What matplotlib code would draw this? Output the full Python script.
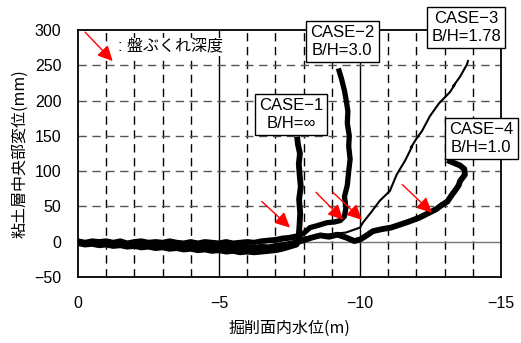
import matplotlib
matplotlib.use("Agg")
import matplotlib.pyplot as plt

plt.rcParams['font.family'] = ['Liberation Sans', 'Noto Sans CJK JP', 'DejaVu Sans']

# ---- データ ----
base_x = [0, -0.25, -0.5, -0.75, -1.0, -1.25, -1.5, -1.75, -2.0, -2.25, -2.5, -2.75,
          -3.0, -3.25, -3.5, -3.75, -4.0, -4.25, -4.5, -4.75, -5.0, -5.25, -5.5, -5.75,
          -6.0, -6.25, -6.5, -6.75, -7.0, -7.25, -7.5, -7.75]

case1_x = base_x + [-7.82, -7.85, -7.88, -7.84, -7.9, -7.86, -7.83, -7.87, -7.8, -7.78]
case1_y = [-2, -4, -3, -5, -4, -6, -5, -7, -6, -8, -7, -9,
           -8, -10, -9, -11, -10, -12, -11, -13, -12, -14, -13, -15,
           -14, -15, -14, -13, -12, -10, -7, -4,
           5, 20, 40, 60, 78, 95, 110, 125, 138, 145]

case2_x = base_x + [-8.0, -8.23, -8.5, -8.83, -9.1, -9.3, -9.45, -9.5, -9.45,
                    -9.55, -9.6, -9.65, -9.6, -9.62, -9.55, -9.57, -9.52, -9.45, -9.35, -9.26]
case2_y = [1, -1, 1, 0, 1, -1, 1, -2, 0, 1, -1, 0,
           -1, 1, -1, -2, 0, -2, 0, -1, -2, 0, -2, -1,
           0, -1, 1, 2, 3, 5, 6, 8,
           12, 20, 23, 27, 28, 30, 36, 48, 64,
           80, 100, 117, 135, 150, 168, 185, 198, 214, 230, 242]

case3_x = [0, -1.0, -2.0, -3.0, -4.0, -5.0, -6.0, -7.0, -8.0, -8.8, -9.5, -10.0,
           -10.1, -10.4, -10.7, -11.06, -11.3, -11.6, -11.85, -11.8, -12.0, -12.2,
           -12.48, -12.8, -13.19, -13.35, -13.3, -13.55, -13.79, -13.83]
case3_y = [0, -2, -3, -4, -5, -5, -3, 0, 6, 10, 13, 20,
           27, 42, 58, 72, 95, 115, 135, 133, 146, 157,
           178, 196, 212, 222, 220, 234, 251, 256]

case4_x = base_x + [-8.0, -8.3, -8.6, -8.9, -9.2, -9.5, -9.8, -10.0, -10.2, -10.46,
                    -10.8, -11.1, -11.4, -11.7, -12.1, -12.4, -12.7, -12.9, -13.1, -13.25,
                    -13.4, -13.5, -13.55, -13.72, -13.7, -13.55, -13.37, -13.19]
case4_y = [-1, -2, -1, -3, -2, -3, -3, -4, -3, -5, -4, -5,
           -5, -6, -5, -7, -6, -7, -7, -8, -7, -9, -8, -9,
           -8, -9, -7, -8, -6, -5, -3, -1,
           2, 6, 9, 7, 10, 6, 1, 3, 8, 15,
           18, 20, 24, 28, 34, 40, 46, 52, 57, 66,
           74, 80, 86, 95, 103, 108, 111, 114]

# 盤ぶくれ深度の矢印 (始点, 先端)
arrow_start = [(-0.25, 297), (-6.52, 57), (-8.44, 70), (-9.04, 70), (-11.5, 81)]
arrow_tip = [(-1.23, 256), (-7.52, 20), (-9.4, 31), (-10.07, 31), (-12.55, 41)]

labels = ['CASE\u22121\nB/H=\u221e', 'CASE\u22122\nB/H=3.0',
          'CASE\u22123\nB/H=1.78', 'CASE\u22124\nB/H=1.0']
label_pos = [(-7.55, 180), (-9.37, 284), (-13.76, 304), (-14.3, 146)]

fig = plt.figure(figsize=(5.21, 3.43), dpi=100)
ax = fig.add_axes([0.1497, 0.1924, 0.8119, 0.7201])

ax.set_xlim(0, -15)
ax.set_ylim(-50, 300)

# グリッド
for xv in range(-1, -15, -1):
    if xv in (-5, -10):
        ax.axvline(xv, color='black', lw=1, zorder=1)
    else:
        ax.axvline(xv, color='black', lw=1, ls=(0, (6, 4)), zorder=1)
for yv in range(50, 300, 50):
    ax.axhline(yv, color='#555555', lw=1, ls=(0, (6, 4)), zorder=1)
ax.axhline(0, color='#777777', lw=1, zorder=1)

ax.plot(case1_x, case1_y, color='black', lw=4.2, solid_joinstyle='round', zorder=3)
ax.plot(case2_x, case2_y, color='black', lw=3.8, solid_joinstyle='round', zorder=3)
ax.plot(case4_x, case4_y, color='black', lw=4.2, solid_joinstyle='round', zorder=3)
ax.plot(case3_x, case3_y, color='black', lw=1.5, zorder=4)

for s, t in zip(arrow_start, arrow_tip):
    ax.annotate('', xy=t, xytext=s,
                arrowprops=dict(arrowstyle='-|>,head_length=0.65,head_width=0.32',
                                color='red', lw=1, mutation_scale=14,
                                shrinkA=0, shrinkB=0),
                zorder=5, annotation_clip=False)

ax.text(-1.42, 276, ': 盤ぶくれ深度', fontsize=11.5, va='center', ha='left', zorder=5,
        bbox=dict(boxstyle='square,pad=0.1', fc='white', ec='none'))

for txt, (lx, ly) in zip(labels, label_pos):
    ax.text(lx, ly, txt, fontsize=12, ha='center', va='center', linespacing=1.25,
            bbox=dict(boxstyle='square,pad=0.25', fc='white', ec='black', lw=1),
            zorder=8, clip_on=False)

ax.set_xticks([0, -5, -10, -15])
ax.set_xticklabels(['0', '\u22125', '\u221210', '\u221215'])
ax.set_yticks(range(-50, 301, 50))
ax.set_yticklabels(['\u221250'] + [str(v) for v in range(0, 301, 50)])
ax.tick_params(axis='x', length=0, pad=14, labelsize=11.5)
ax.tick_params(axis='y', length=0, pad=12, labelsize=11.5)

for sp in ax.spines.values():
    sp.set_linewidth(1.3)
    sp.set_color('black')
    sp.set_zorder(7)

ax.set_xlabel('掘削面内水位(m)', fontsize=11.5, labelpad=6,
              family=['Noto Sans CJK JP', 'Liberation Sans'])
ax.set_ylabel('粘土層中央部変位(mm)', fontsize=11.5, labelpad=4,
              family=['Noto Sans CJK JP', 'Liberation Sans'])

fig.savefig('out.png', dpi=100)
